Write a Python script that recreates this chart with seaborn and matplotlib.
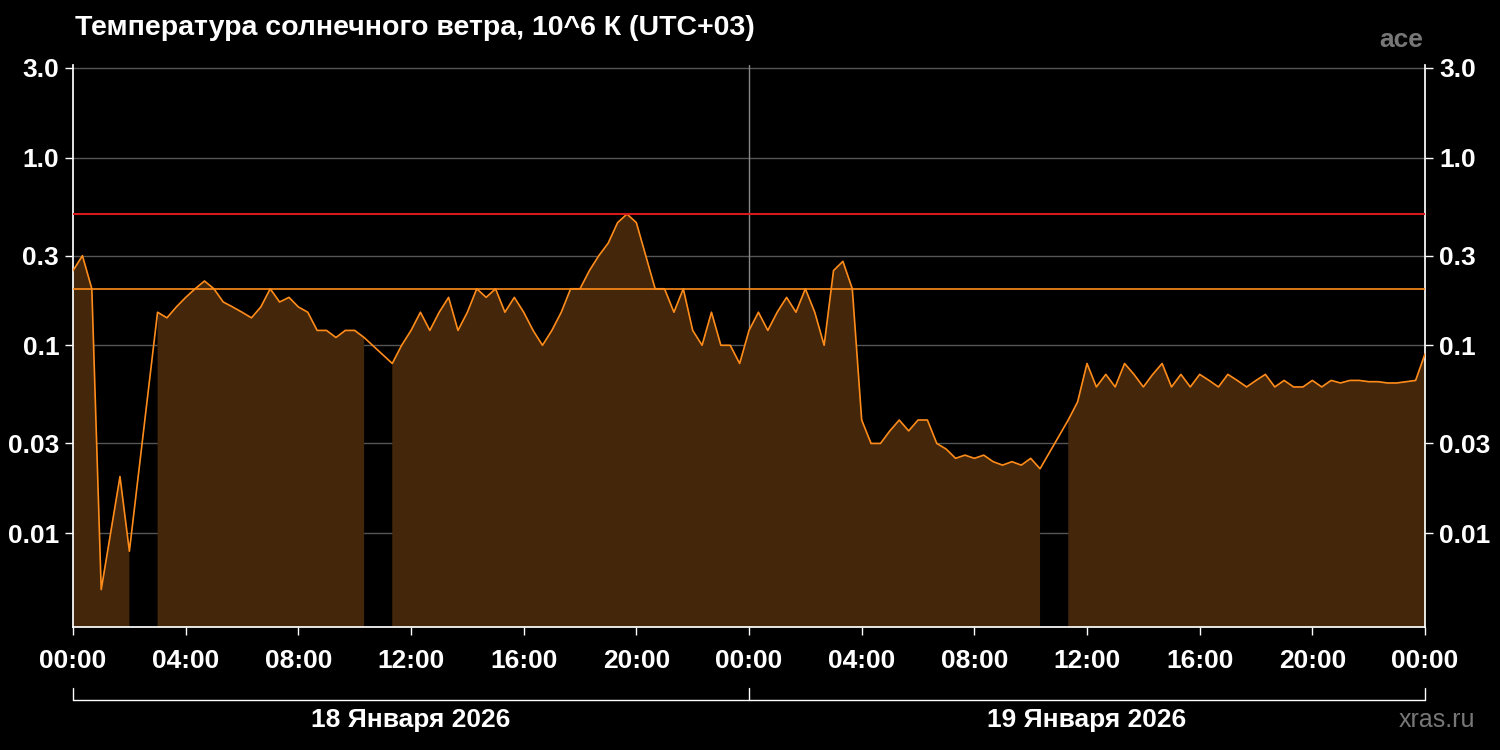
import numpy as np
import pandas as pd
import matplotlib
matplotlib.use("Agg")
import matplotlib.pyplot as plt
import seaborn as sns

nan = np.nan
# Solar wind temperature, 10^6 K, sampled every 20 minutes from 18 Jan 00:00 to 20 Jan 00:00
temp_day1 = [0.25,0.3,0.2,0.005,0.01,0.02,0.008,nan,nan,0.15,0.14,0.16,0.18,0.2,0.22,0.2,0.17,0.16,
             0.15,0.14,0.16,0.2,0.17,0.18,0.16,0.15,0.12,0.12,0.11,0.12,0.12,0.11,nan,nan,0.08,0.1,
             0.12,0.15,0.12,0.15,0.18,0.12,0.15,0.2,0.18,0.2,0.15,0.18,0.15,0.12,0.1,0.12,0.15,0.2,
             0.2,0.25,0.3,0.35,0.45,0.5,0.45,0.3,0.2,0.2,0.15,0.2,0.12,0.1,0.15,0.1,0.1,0.08]
temp_day2 = [0.12,0.15,0.12,0.15,0.18,0.15,0.2,0.15,0.1,0.25,0.28,0.2,0.04,0.03,0.03,0.035,0.04,0.035,
             0.04,0.04,0.03,0.028,0.025,0.026,0.025,0.026,0.024,0.023,0.024,0.023,0.025,0.022,nan,nan,0.04,0.05,
             0.08,0.06,0.07,0.06,0.08,0.07,0.06,0.07,0.08,0.06,0.07,0.06,0.07,0.065,0.06,0.07,0.065,0.06,
             0.065,0.07,0.06,0.065,0.06,0.06,0.065,0.06,0.065,0.063,0.065,0.065,0.064,0.064,0.063,0.063,0.064,0.065,0.09]
values = temp_day1 + temp_day2
hours = np.arange(len(values)) * 20 / 60.0
tick_hours = list(range(0, 49, 4))
tick_labels = ["00:00","04:00","08:00","12:00","16:00","20:00","00:00","04:00","08:00","12:00","16:00","20:00","00:00"]
y_ticks = [0.01, 0.03, 0.1, 0.3, 1.0, 3.0]
y_labels = ["0.01","0.03","0.1","0.3","1.0","3.0"]
red_level, orange_level = 0.5, 0.2
dates = ["18 Января 2026", "19 Января 2026"]

df = pd.DataFrame({"h": hours, "t": values})
ybot = 0.00316

sns.set_theme(style="dark")
plt.rcParams['font.family'] = ['Liberation Sans', 'DejaVu Sans']
fig = plt.figure(figsize=(15, 7.5), dpi=100, facecolor="black")
ax = fig.add_axes([0.0487, 0.164, 0.9013, 0.749])
ax.set_facecolor("black")
ax.set_yscale("log")
ax.set_ylim(ybot, 3.1)
ax.set_xlim(0, 48)
for y in y_ticks:
    ax.axhline(y, color="#555555", lw=1, zorder=1)
ax.axvline(24, color="#888888", lw=1, zorder=1)
ax.fill_between(df["h"], ybot, df["t"], color="#44260a", lw=0, zorder=2)
sns.lineplot(data=df, x="h", y="t", ax=ax, color="#ff8c1a", lw=1.2, zorder=3)
ax.axhline(red_level, color="#d41a1a", lw=1.5, zorder=4)
ax.axhline(orange_level, color="#ff8c1a", lw=1.2, zorder=4)
ax.set_xlabel(""); ax.set_ylabel("")
ax.set_xticks(tick_hours)
ax.set_xticklabels(tick_labels, color="white", fontsize=19, fontweight="bold")
ax.set_yticks(y_ticks)
ax.set_yticklabels(y_labels, color="white", fontsize=19, fontweight="bold")
ax.minorticks_off()
ax.tick_params(axis="both", colors="white", length=6, width=1, direction="out", bottom=True, left=True)
ax.tick_params(axis="y", labelright=True, right=True, labelcolor="white", pad=4)
ax.tick_params(axis="x", pad=10)
for s in ax.spines.values():
    s.set_visible(False)
ax.spines["left"].set_visible(True); ax.spines["left"].set_color("white")
ax.spines["right"].set_visible(True); ax.spines["right"].set_color("white")
ax.spines["bottom"].set_visible(True); ax.spines["bottom"].set_color("white")
ax.grid(False)

# date bracket
yb = (750 - 700) / 750
x0, x1 = 0.0487, 0.95
xm = (x0 + x1) / 2
fig.add_artist(plt.Line2D([x0, x1], [yb, yb], color="white", lw=1))
for xx in (x0, xm, x1):
    fig.add_artist(plt.Line2D([xx, xx], [yb, yb + 0.016], color="white", lw=1))
fig.text((x0 + xm) / 2, (750 - 720) / 750, dates[0], color="white", fontsize=19, fontweight="bold", ha="center", va="center")
fig.text((xm + x1) / 2, (750 - 720) / 750, dates[1], color="white", fontsize=19, fontweight="bold", ha="center", va="center")

fig.text(75 / 1500, (750 - 28) / 750, "Температура солнечного ветра, 10^6 К (UTC+03)", color="white",
         fontsize=20.5, fontweight="bold", ha="left", va="center")
fig.text(1423 / 1500, (750 - 40) / 750, "ace", color="#777777", fontsize=19, fontweight="bold", ha="right", va="center")
fig.text(1475 / 1500, (750 - 720) / 750, "xras.ru", color="#777777", fontsize=18, ha="right", va="center")

fig.savefig("out.png", dpi=100, facecolor="black")
